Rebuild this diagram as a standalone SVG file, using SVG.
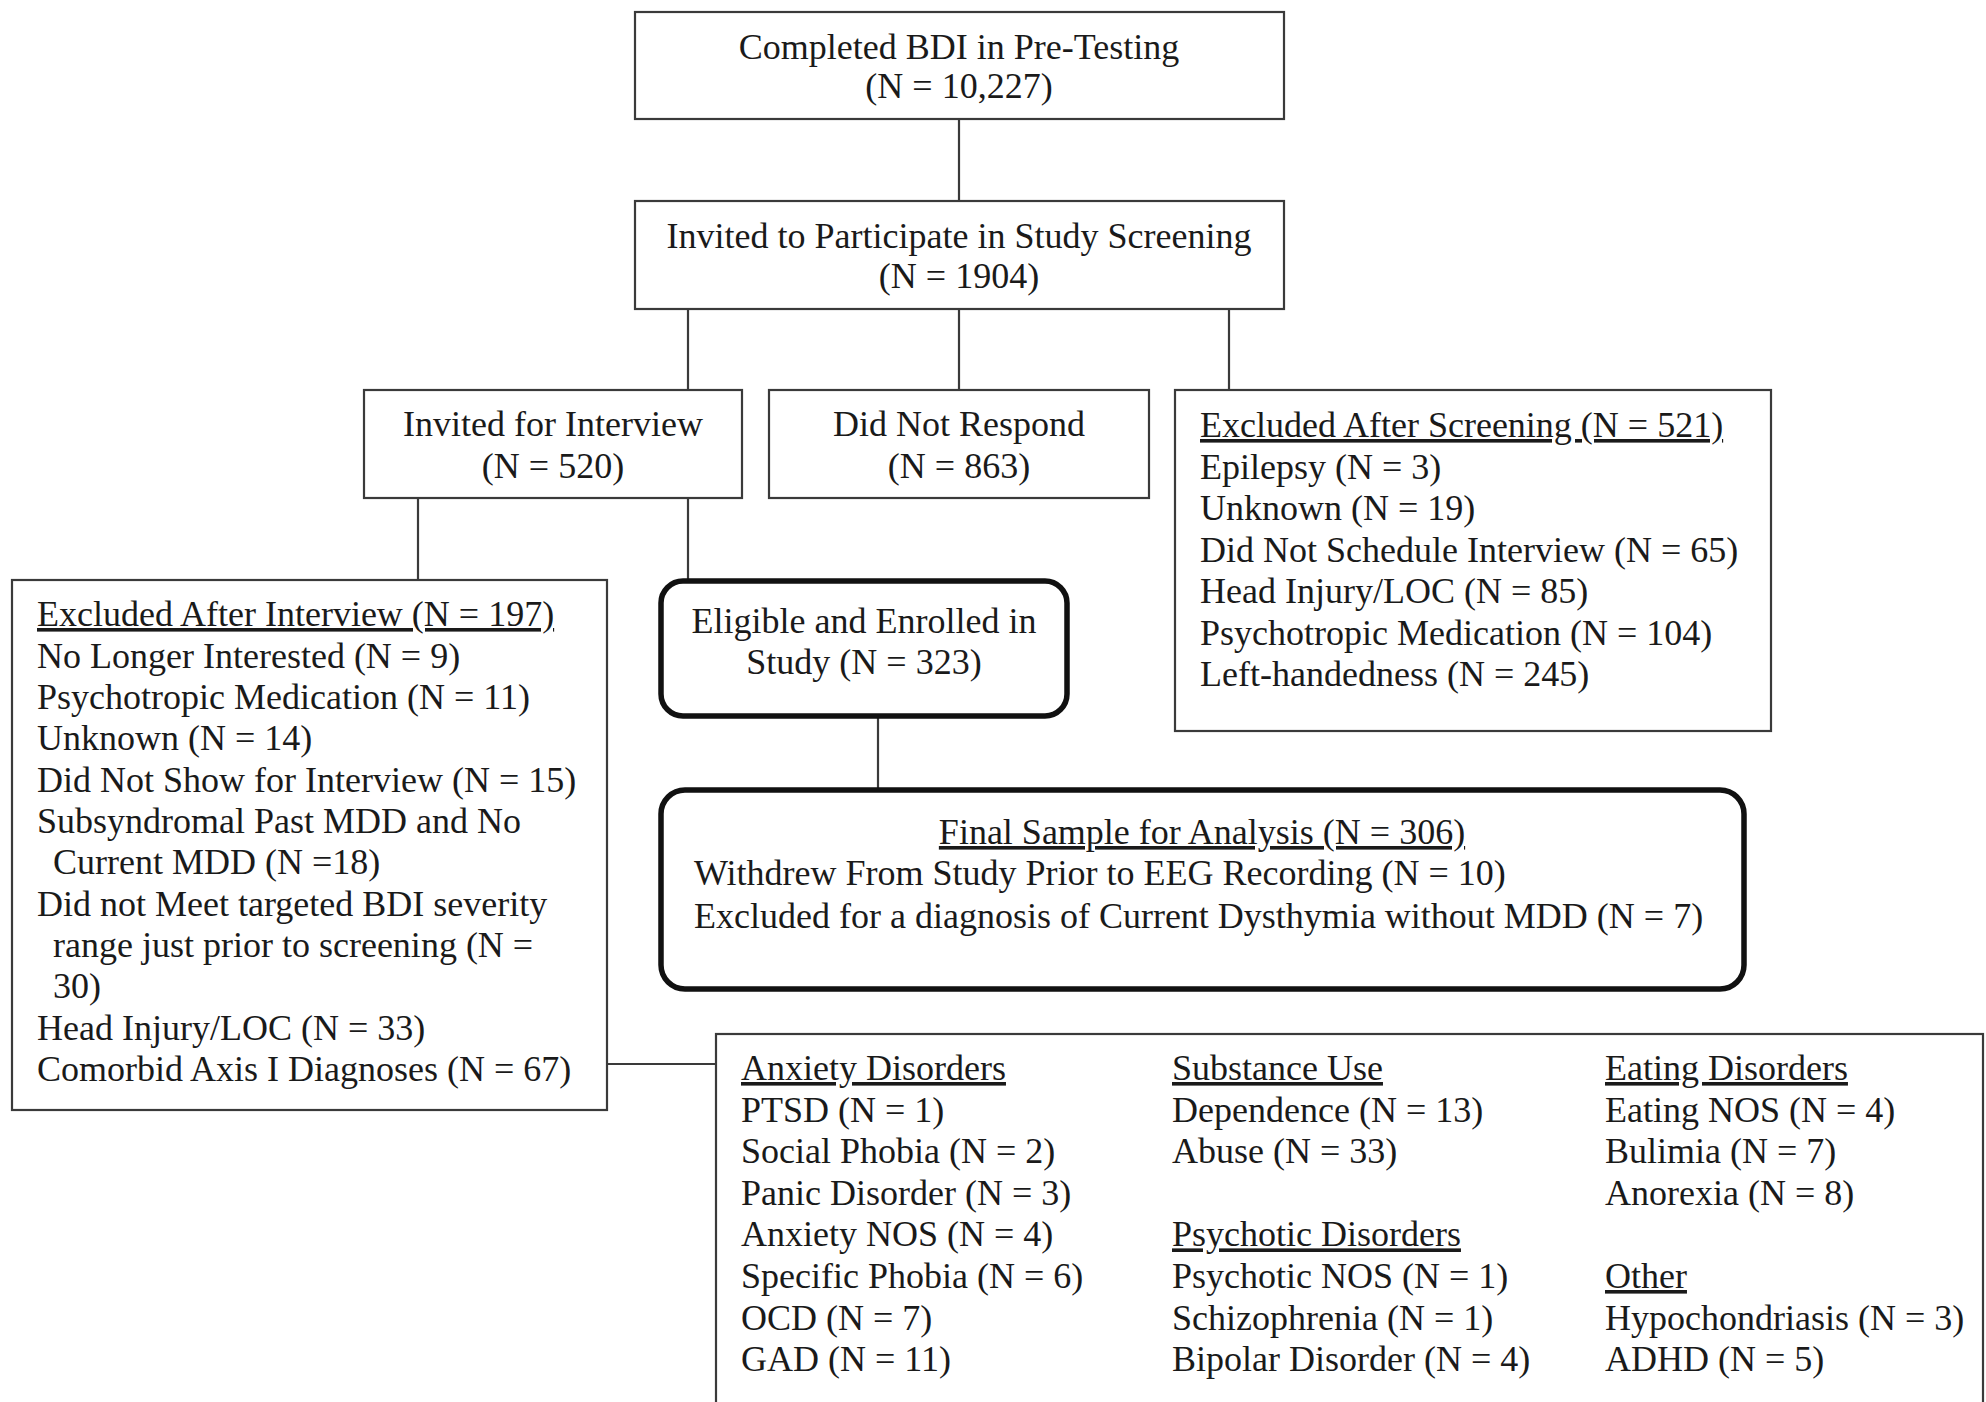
<svg xmlns="http://www.w3.org/2000/svg" width="1986" height="1402" viewBox="0 0 1986 1402">
<style>
.box{fill:#ffffff;stroke:#3a3a3a;stroke-width:2.2}
.rbox{fill:#ffffff;stroke:#111111;stroke-width:5.5}
.t{font-family:"Liberation Serif","Times New Roman",serif;font-size:36px;fill:#1a1a1a}
.c{text-anchor:middle}
.u{text-decoration:underline}
.ln{stroke:#3a3a3a;stroke-width:2.2;fill:none}
</style>
<rect width="1986" height="1402" fill="#ffffff"/>
<g id="connectors">
<line class="ln" x1="959" y1="119" x2="959" y2="201"/>
<line class="ln" x1="688" y1="309" x2="688" y2="390"/>
<line class="ln" x1="959" y1="309" x2="959" y2="390"/>
<line class="ln" x1="1229" y1="309" x2="1229" y2="390"/>
<line class="ln" x1="418" y1="498" x2="418" y2="580"/>
<line class="ln" x1="688" y1="498" x2="688" y2="580"/>
<line class="ln" x1="878" y1="716" x2="878" y2="789"/>
<line class="ln" x1="607" y1="1064" x2="716" y2="1064"/>
</g>
<g id="n-completed">
<rect class="box" x="635" y="12" width="649" height="107"/>
<text class="t c" x="959" y="59">Completed BDI in Pre-Testing</text>
<text class="t c" x="959" y="98">(N = 10,227)</text>
</g>
<g id="n-invited-screening">
<rect class="box" x="635" y="201" width="649" height="108"/>
<text class="t c" x="959" y="248">Invited to Participate in Study Screening</text>
<text class="t c" x="959" y="288">(N = 1904)</text>
</g>
<g id="n-invited-interview">
<rect class="box" x="364" y="390" width="378" height="108"/>
<text class="t c" x="553" y="436">Invited for Interview</text>
<text class="t c" x="553" y="478">(N = 520)</text>
</g>
<g id="n-did-not-respond">
<rect class="box" x="769" y="390" width="380" height="108"/>
<text class="t c" x="959" y="436">Did Not Respond</text>
<text class="t c" x="959" y="478">(N = 863)</text>
</g>
<g id="n-excluded-screening">
<rect class="box" x="1175" y="390" width="596" height="341"/>
<text class="t u" x="1200" y="437">Excluded After Screening (N = 521)</text>
<text class="t" x="1200" y="478.5">Epilepsy (N = 3)</text>
<text class="t" x="1200" y="520">Unknown (N = 19)</text>
<text class="t" x="1200" y="561.5">Did Not Schedule Interview (N = 65)</text>
<text class="t" x="1200" y="603">Head Injury/LOC (N = 85)</text>
<text class="t" x="1200" y="644.5">Psychotropic Medication (N = 104)</text>
<text class="t" x="1200" y="686">Left-handedness (N = 245)</text>
</g>
<g id="n-excluded-interview">
<rect class="box" x="12" y="580" width="595" height="530"/>
<text class="t u" x="37" y="626">Excluded After Interview (N = 197)</text>
<text class="t" x="37" y="667.5">No Longer Interested (N = 9)</text>
<text class="t" x="37" y="709">Psychotropic Medication (N = 11)</text>
<text class="t" x="37" y="750">Unknown (N = 14)</text>
<text class="t" x="37" y="791.5">Did Not Show for Interview (N = 15)</text>
<text class="t" x="37" y="833">Subsyndromal Past MDD and No</text>
<text class="t" x="53" y="874">Current MDD (N =18)</text>
<text class="t" x="37" y="915.5">Did not Meet targeted BDI severity</text>
<text class="t" x="53" y="957">range just prior to screening (N =</text>
<text class="t" x="53" y="998">30)</text>
<text class="t" x="37" y="1039.5">Head Injury/LOC (N = 33)</text>
<text class="t" x="37" y="1081">Comorbid Axis I Diagnoses (N = 67)</text>
</g>
<g id="n-eligible">
<rect class="rbox" x="661" y="581" width="406" height="135" rx="22"/>
<text class="t c" x="864" y="633">Eligible and Enrolled in</text>
<text class="t c" x="864" y="674">Study (N = 323)</text>
</g>
<g id="n-final">
<rect class="rbox" x="661" y="790" width="1083" height="199" rx="24"/>
<text class="t c u" x="1202" y="844">Final Sample for Analysis (N = 306)</text>
<text class="t" x="694" y="885">Withdrew From Study Prior to EEG Recording (N = 10)</text>
<text class="t" x="694" y="928">Excluded for a diagnosis of Current Dysthymia without MDD (N = 7)</text>
</g>
<g id="n-comorbid">
<rect class="box" x="716" y="1034" width="1267" height="400"/>
<text class="t u" x="741" y="1080">Anxiety Disorders</text>
<text class="t" x="741" y="1121.6">PTSD (N = 1)</text>
<text class="t" x="741" y="1163.2">Social Phobia (N = 2)</text>
<text class="t" x="741" y="1204.8">Panic Disorder (N = 3)</text>
<text class="t" x="741" y="1246.4">Anxiety NOS (N = 4)</text>
<text class="t" x="741" y="1288">Specific Phobia (N = 6)</text>
<text class="t" x="741" y="1329.6">OCD (N = 7)</text>
<text class="t" x="741" y="1371.2">GAD (N = 11)</text>
<text class="t u" x="1172" y="1080">Substance Use</text>
<text class="t" x="1172" y="1121.6">Dependence (N = 13)</text>
<text class="t" x="1172" y="1163.2">Abuse (N = 33)</text>
<text class="t u" x="1172" y="1246.4">Psychotic Disorders</text>
<text class="t" x="1172" y="1288">Psychotic NOS (N = 1)</text>
<text class="t" x="1172" y="1329.6">Schizophrenia (N = 1)</text>
<text class="t" x="1172" y="1371.2">Bipolar Disorder (N = 4)</text>
<text class="t u" x="1605" y="1080">Eating Disorders</text>
<text class="t" x="1605" y="1121.6">Eating NOS (N = 4)</text>
<text class="t" x="1605" y="1163.2">Bulimia (N = 7)</text>
<text class="t" x="1605" y="1204.8">Anorexia (N = 8)</text>
<text class="t u" x="1605" y="1288">Other</text>
<text class="t" x="1605" y="1329.6">Hypochondriasis (N = 3)</text>
<text class="t" x="1605" y="1371.2">ADHD (N = 5)</text>
</g>
</svg>
